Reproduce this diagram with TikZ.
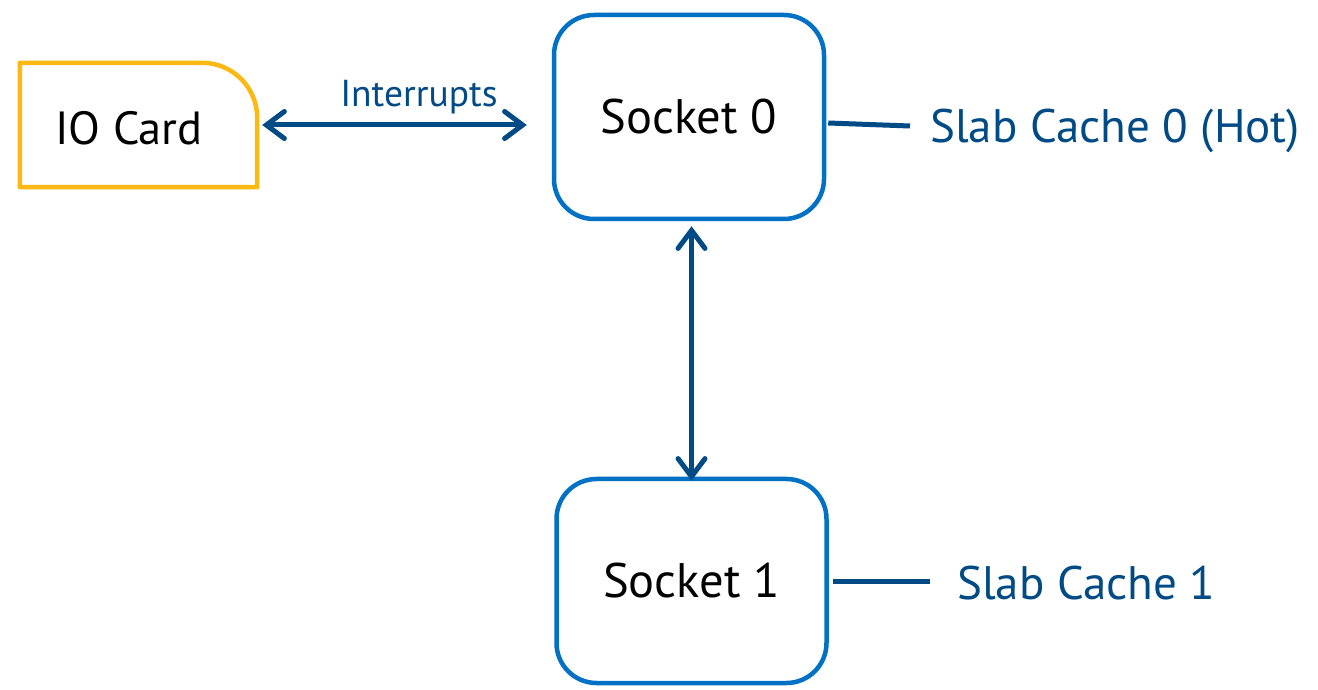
\documentclass[tikz,border=0pt]{standalone}
\usepackage{fontspec}
\setmainfont{PT Sans}
\usetikzlibrary{arrows.meta,calc}
\definecolor{ioyellow}{HTML}{FDB913}
\definecolor{sockblue}{HTML}{0071C5}
\definecolor{darkblue}{HTML}{004A86}
\tikzset{
  sockbox/.style={draw=sockblue,line width=4.5pt,rounded corners=40pt,minimum width=270pt,minimum height=204pt,inner sep=0pt,font=\fontsize{48.5}{52}\selectfont,text=black},
  conn/.style={draw=darkblue,line width=5pt},
  biarrow/.style={conn,{Straight Barb[length=18pt,width=27pt,line cap=round]}-{Straight Barb[length=18pt,width=27pt,line cap=round]}},
  slablabel/.style={font=\fontsize{47}{50}\selectfont,text=darkblue,anchor=west,inner sep=0pt}
}
\begin{document}
\begin{tikzpicture}[x=1pt,y=1pt]
\useasboundingbox[fill=white] (0,0) rectangle (1318,689);
% IO card
\node[minimum width=237pt,minimum height=124pt,inner sep=0pt] (io) at (138.5,564) {};
\node[font=\fontsize{46.5}{50}\selectfont,inner sep=0pt] (iotext) at (129,561) {IO Card};
\draw[ioyellow,line width=4.5pt,line join=round] (io.south west) -- (io.north west) -- ($(io.north east)+(-55,0)$) arc[start angle=90,end angle=0,radius=55pt] -- (io.south east) -- cycle;
% sockets
\node[sockbox] (s0) at (689,572) {\raisebox{2pt}{Socket 0}};
\node[sockbox] (s1) at (691.5,108) {Socket 1};
% labels
\node[slablabel] (l0) at (930,558) {Slab Cache 0 (Hot)};
\node[slablabel] (l1) at (957,106) {Slab Cache 1};
% connectors
\coordinate (a0) at ($(s0.west)+(-25,-8)$);
\draw[biarrow] ($(io.east)+(5,0)$) -- (a0 |- io.east);
\node[font=\fontsize{37.5}{40}\selectfont,text=darkblue,inner sep=0pt,anchor=base] (intr) at ($(io.east)!0.6!(a0 |- io.east)+(0,18)$) {Interrupts};
\draw[biarrow] ($(s1.north)+(0,-4)$) -- ($(s1.north |- s0.south)+(0,-5)$);
\draw[conn] ($(s0.east)+(2,-6)$) -- ($(l0.west)+(-20,5)$);
\draw[conn] ($(s1.east)+(4,0)$) -- ($(l1.west)+(-27,2)$);
\end{tikzpicture}
\end{document}
